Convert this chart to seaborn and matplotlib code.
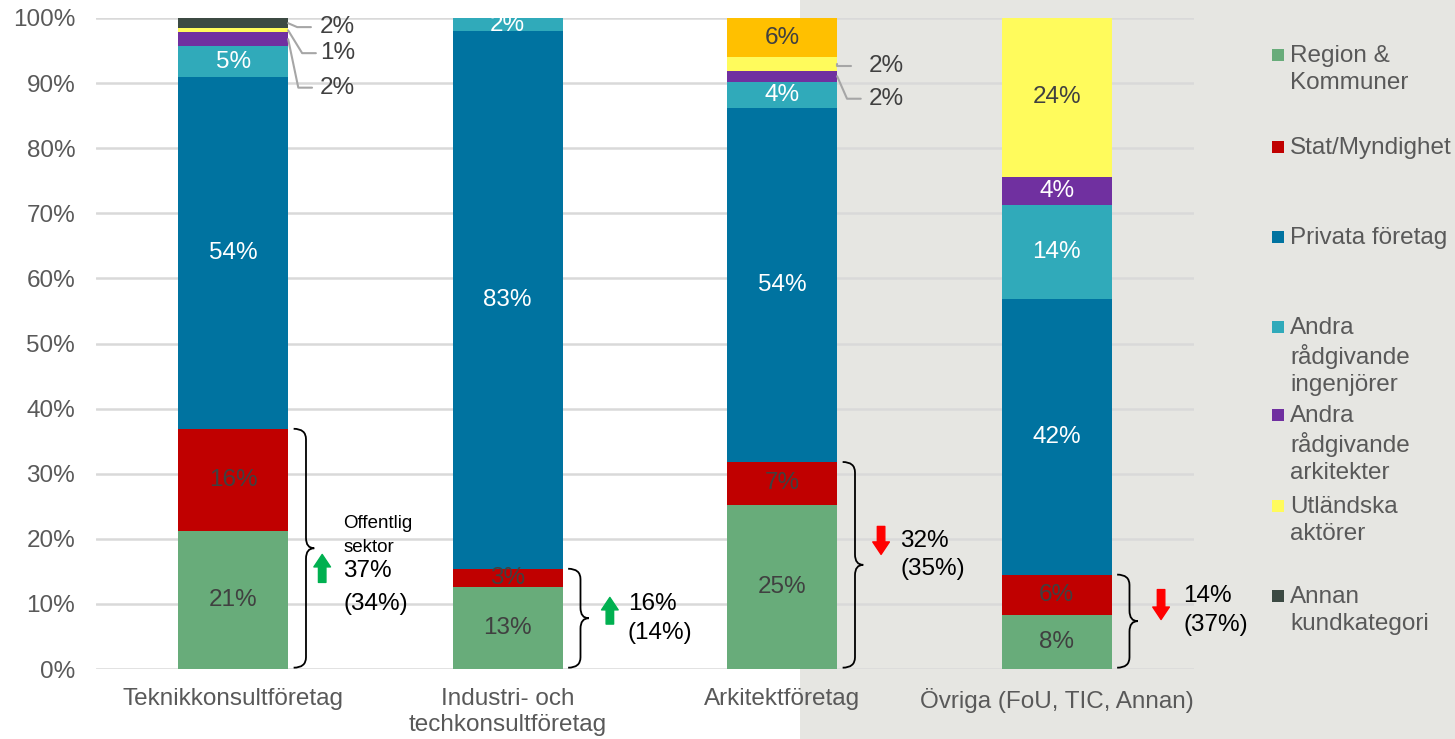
import numpy as np
import pandas as pd
import matplotlib.pyplot as plt
import seaborn as sns
from matplotlib.patches import Rectangle, PathPatch
from matplotlib.path import Path

kategorier = ['Teknikkonsultföretag', 'Industri- och\ntechkonsultföretag',
              'Arkitektföretag', 'Övriga (FoU, TIC, Annan)']

# andel (%) per kundkategori, nedifrån och upp
region = [21.2, 12.6, 25.2, 8.3]
stat = [15.7, 2.8, 6.6, 6.2]
privata = [54.0, 82.6, 54.4, 42.3]
andra_ing = [4.8, 2.0, 4.0, 14.4]
andra_ark = [2.1, 0.0, 1.7, 4.4]
utlandska = [0.6, 0.0, 2.1, 24.4]
annan = [1.6, 0.0, 0.0, 0.0]
ovrigt = [0.0, 0.0, 6.0, 0.0]   # orange segment, ingen legend

serier = ['Region &\nKommuner', 'Stat/Myndighet', 'Privata företag',
          'Andra\nrådgivande\ningenjörer', 'Andra\nrådgivande\narkitekter',
          'Utländska\naktörer', 'Annan\nkundkategori', 'Övrigt']
varden = [region, stat, privata, andra_ing, andra_ark, utlandska, annan, ovrigt]
farger = ['#68AC7A', '#C00000', '#0073A0', '#30AABA', '#7030A0',
          '#FFFB5C', '#3C4A43', '#FFC000']
textfarg = ['#404040', '#404040', 'white', 'white', 'white',
            '#404040', 'white', '#404040']

# offentlig sektor: i år och (förra året)
offentlig = ['37%', '16%', '32%', '14%']
offentlig_fg = ['(34%)', '(14%)', '(35%)', '(37%)']
upp = [True, True, False, False]

df = pd.DataFrame(dict(zip(serier, varden)), index=kategorier)

sns.set_theme(style="whitegrid")
plt.rcParams['font.family'] = ['Liberation Sans', 'DejaVu Sans']

FS = 17.5

fig = plt.figure(figsize=(14.55, 7.39), dpi=100)
fig.patch.set_facecolor('white')
fig.patches.append(Rectangle((800 / 1455, 0), 1 - 800 / 1455, 1, transform=fig.transFigure,
                             facecolor='#E6E6E2', edgecolor='none', zorder=-10))
ax = fig.add_axes([96 / 1455, 1 - 669 / 739, (1194 - 96) / 1455, (669 - 18) / 739])
ax.patch.set_alpha(0)

x = np.arange(len(kategorier))
bottom = np.zeros(len(kategorier))
for i, s in enumerate(serier):
    v = df[s].values
    ax.bar(x, v, bottom=bottom, width=0.4, color=farger[i], linewidth=0, zorder=3)
    bottom = bottom + v

# segmentetiketter
bottom = np.zeros(len(kategorier))
callouts = []
for i, s in enumerate(serier):
    v = df[s].values
    for j in range(len(kategorier)):
        if v[j] <= 0:
            continue
        mid = bottom[j] + v[j] / 2
        txt = f'{v[j]:.0f}%'
        if v[j] < 2.5 and i >= 4:
            callouts.append((j, mid, txt))
        else:
            ax.text(x[j], mid, txt, ha='center', va='center', fontsize=FS,
                    color=textfarg[i], zorder=4)
    bottom = bottom + v

# callout-etiketter med linjer (positioner)
label_pos = {(0, 0): 98.6, (0, 1): 94.6, (0, 2): 89.3, (2, 0): 92.7, (2, 1): 87.6}
knee = {(0, 0): 0.233, (0, 1): 0.251, (0, 2): 0.237, (2, 0): 0.2, (2, 1): 0.236}
by_bar = {}
for j, mid, txt in callouts:
    by_bar.setdefault(j, []).append((mid, txt))
for j, lst in by_bar.items():
    lst = sorted(lst, key=lambda t: -t[0])
    for k, (mid, txt) in enumerate(lst):
        ly = label_pos[(j, k)]
        kx = knee[(j, k)]
        ax.plot([x[j] + 0.2, x[j] + kx, x[j] + kx + 0.05], [mid, ly, ly],
                color='#A6A6A6', lw=1.5, zorder=4, clip_on=False)
        ax.text(x[j] + 0.315, ly, txt, ha='left', va='center', fontsize=FS,
                color='#404040', zorder=4)


def klammer(ax, xc, y0, y1):
    x0, x1, x2 = xc + 0.22, xc + 0.265, xc + 0.295
    ym = (y0 + y1) / 2
    r = 1.6
    verts = [(x0, y0), (x1, y0), (x1, y0 + r), (x1, ym - r), (x1, ym), (x2, ym),
             (x1, ym), (x1, ym + r), (x1, y1 - r), (x1, y1), (x0, y1)]
    codes = [Path.MOVETO, Path.CURVE3, Path.CURVE3, Path.LINETO, Path.CURVE3, Path.CURVE3,
             Path.CURVE3, Path.CURVE3, Path.LINETO, Path.CURVE3, Path.CURVE3]
    ax.add_patch(PathPatch(Path(verts, codes), facecolor='none', edgecolor='black',
                           lw=1.3, zorder=4, clip_on=False))


pil_x = [0.324, 0.372, 0.36, 0.38]
text_x = [0.40, 0.437, 0.43, 0.46]
pil_y = [(13.3, 17.6), (6.9, 11.0), (21.9, 17.6), (12.2, 7.6)]
text_y = [(15.1, 10.0), (10.0, 5.5), (19.7, 15.4), (11.2, 6.8)]
for j in range(len(kategorier)):
    top = region[j] + stat[j]
    klammer(ax, x[j], 0.2, top)
    y_a, y_b = pil_y[j]
    ax.annotate('', xy=(x[j] + pil_x[j], y_b), xytext=(x[j] + pil_x[j], y_a),
                arrowprops=dict(arrowstyle='simple,head_width=1.0,head_length=0.75,tail_width=0.45',
                                color='#00B050' if upp[j] else '#FF0000',
                                shrinkA=0, shrinkB=0, mutation_scale=12), zorder=5)
    ax.text(x[j] + text_x[j], text_y[j][0], offentlig[j], ha='left', va='center',
            fontsize=FS, color='black', zorder=5)
    ax.text(x[j] + text_x[j], text_y[j][1], offentlig_fg[j], ha='left', va='center',
            fontsize=FS, color='black', zorder=5)
ax.text(x[0] + 0.40, 22.3, 'Offentlig', ha='left', va='center', fontsize=13.5, color='black')
ax.text(x[0] + 0.40, 18.6, 'sektor', ha='left', va='center', fontsize=13.5, color='black')

ax.set_xlim(-0.5, 3.5)
ax.set_ylim(0, 100)
ax.set_yticks(np.arange(0, 101, 10))
ax.set_yticklabels([f'{t}%' for t in range(0, 101, 10)])
ax.set_xticks(x)
ax.set_xticklabels(kategorier)
for lbl in ax.get_xticklabels():
    lbl.set_linespacing(1.2)
ax.tick_params(axis='y', labelsize=FS, labelcolor='#595959', length=0, pad=15)
ax.tick_params(axis='x', labelsize=FS, labelcolor='#595959', length=0, pad=14)
ax.grid(axis='x', visible=False)
ax.grid(axis='y', color='#D9D9D9', lw=1.8, zorder=0)
for sp in ax.spines.values():
    sp.set_visible(False)

# legend (manuell placering)
leg_y = [55, 147, 237, 327, 415, 506, 596]
for i in range(7):
    py = leg_y[i]
    fig.patches.append(Rectangle((1272 / 1455, 1 - (py + 6) / 739), 12 / 1455, 12 / 739,
                                 transform=fig.transFigure, facecolor=farger[i],
                                 edgecolor='none'))
    fig.text(1290 / 1455, 1 - (py - 10) / 739, serier[i], ha='left', va='top',
             fontsize=FS, color='#595959', linespacing=1.27)

fig.savefig('out.png', dpi=100)
